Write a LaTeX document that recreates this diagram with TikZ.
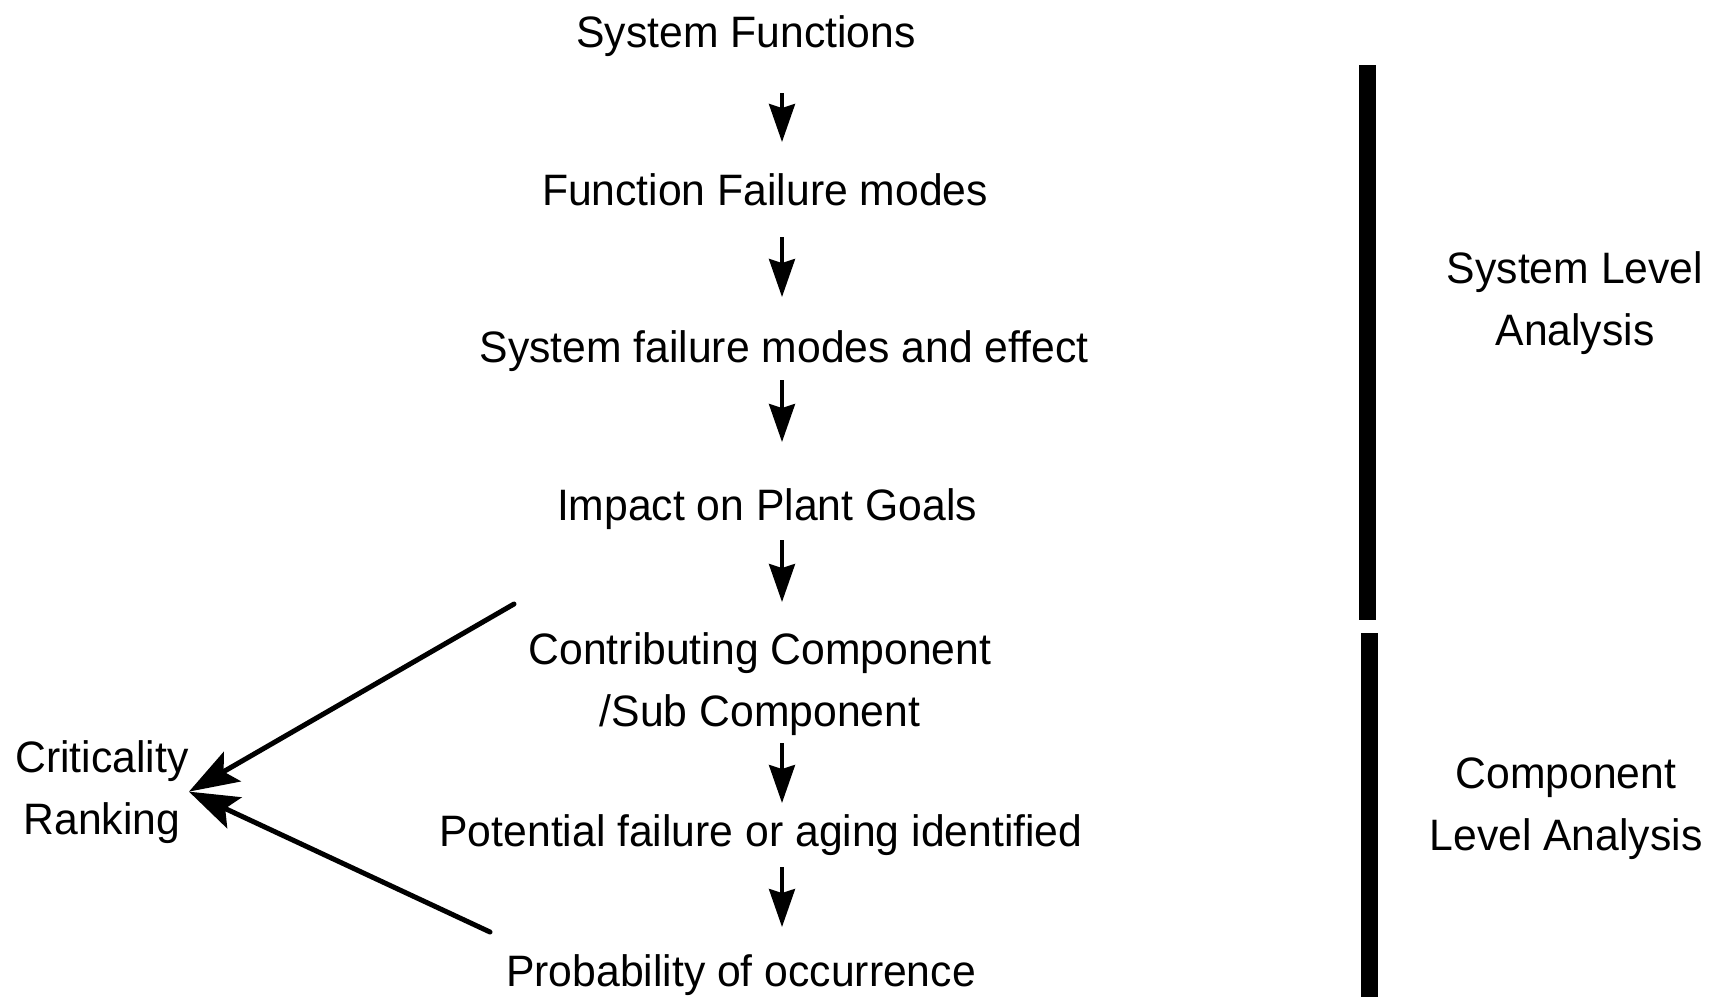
\documentclass[tikz,border=0pt]{standalone}
\usepackage{fontspec}
\setmainfont[FakeStretch=0.97]{Liberation Sans}
\usetikzlibrary{arrows.meta,calc}
\begin{document}
\begin{tikzpicture}[x=0.5pt,y=-0.5pt,
  lbl/.style={font=\fontsize{22}{31}\selectfont, inner sep=0pt, anchor=base, align=center},
  flow/.style={-{Stealth[length=19pt,width=13pt,inset=2pt]}, line width=1.75pt},
  rank/.style={-{Stealth[length=25pt,width=17pt,inset=5pt]}, line width=2.5pt, line cap=round},
  bar/.style={fill=black}]
\useasboundingbox (0,0) rectangle (1717,997);
\coordinate (ax) at (782,0);
\node[lbl] (n1) at (746,47) {System Functions};
\node[lbl] (n2) at (765,205) {Function Failure modes};
\node[lbl] (n3) at (784,362) {System failure modes and effect};
\node[lbl] (n4) at (767,520) {Impact on Plant Goals};
\node[lbl] (n5) at (760,726) {Contributing Component\\/Sub Component};
\node[lbl] (n6) at (761,846) {Potential failure or aging identified};
\node[lbl] (n7) at (741,986) {Probability of occurrence};
\node[lbl] (crit) at (102,834) {Criticality\\Ranking};
\node[lbl] (sys) at (1575,345) {System Level\\Analysis};
\node[lbl] (comp) at (1566,850) {Component\\Level Analysis};
\draw[flow, shorten <=23pt, shorten >=31.5pt] (n1.base -| ax) -- (n2.base -| ax);
\draw[flow, shorten <=16pt, shorten >=32.5pt] (n2.base -| ax) -- (n3.base -| ax);
\draw[flow, shorten <=9pt, shorten >=39pt] (n3.base -| ax) -- (n4.base -| ax);
\draw[flow, shorten <=10pt, shorten >=62pt] (n4.base -| ax) -- (n5.base -| ax);
\draw[flow, shorten <=8.5pt, shorten >=21.5pt] (n5.base -| ax) -- (n6.base -| ax);
\draw[flow, shorten <=10.5pt, shorten >=29.5pt] (n6.base -| ax) -- (n7.base -| ax);
\coordinate (r1) at (514,604);
\coordinate (r2) at (490,932);
\draw[rank] (r1) -- (crit.east);
\draw[rank] (r2) -- (crit.east);
\fill[bar] (1359,65) rectangle (1376,620);
\fill[bar] (1361,633) rectangle (1378,997);
\end{tikzpicture}
\end{document}
